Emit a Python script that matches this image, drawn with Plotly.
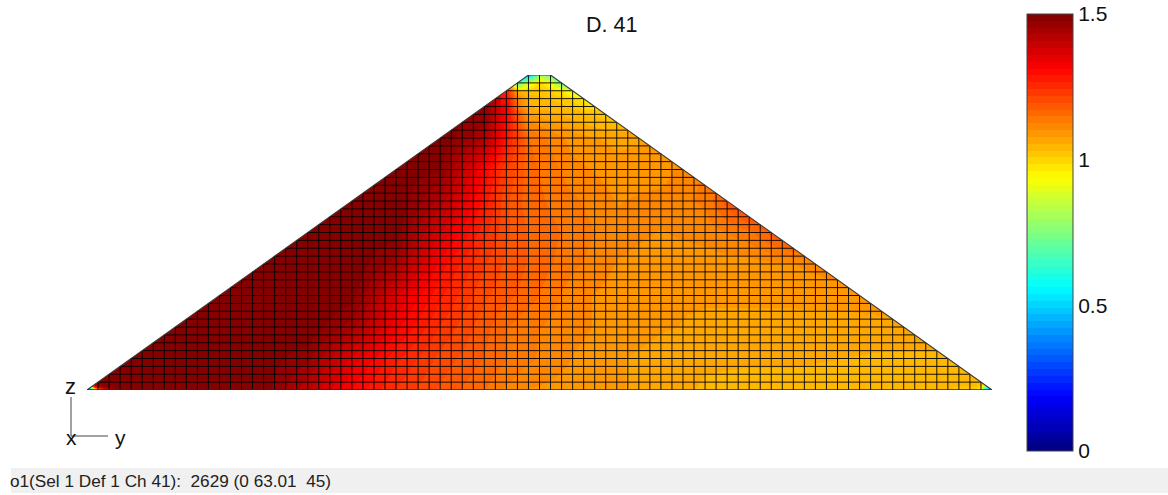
import plotly.graph_objects as go

TITLE = "D. 41"
STATUS = "o1(Sel 1 Def 1 Ch 41):\u00a0\u00a02629 (0 63.01\u00a0\u00a045)"
TICK_VALUES = [0, 0.5, 1, 1.5]
TICK_LABELS = ["0", "0.5", "1", "1.5"]
N_COLS = 82
N_ROWS = 40
TOP_FLAT_LEFT = 40
TOP_FLAT_RIGHT = 42

COLS = [0, 4, 8, 12, 16, 20, 24, 28, 32, 36, 38, 40, 44, 48, 52, 56, 60, 64, 68, 72, 76, 80, 82]
ROWS = [0, 4, 8, 12, 16, 20, 24, 28, 32, 36, 40]
R00 = [1.49, 1.49, 1.49, 1.49, 1.49, 1.41, 1.31, 1.24, 1.19, 1.15, 1.12, 1.10, 1.09, 1.08, 1.07, 1.05, 1.04, 1.04, 1.035, 1.03, 1.03, 1.03, 1.03]
R04 = [1.49, 1.49, 1.49, 1.49, 1.49, 1.46, 1.35, 1.27, 1.21, 1.17, 1.15, 1.13, 1.10, 1.08, 1.07, 1.06, 1.06, 1.06, 1.055, 1.05, 1.05, 1.05, 1.05]
R08 = [1.49, 1.49, 1.49, 1.49, 1.49, 1.50, 1.44, 1.32, 1.24, 1.18, 1.15, 1.13, 1.11, 1.09, 1.08, 1.075, 1.075, 1.075, 1.07, 1.07, 1.07, 1.07, 1.07]
R12 = [1.49, 1.49, 1.49, 1.49, 1.49, 1.50, 1.49, 1.36, 1.27, 1.20, 1.18, 1.16, 1.11, 1.09, 1.08, 1.08, 1.08, 1.08, 1.085, 1.09, 1.09, 1.09, 1.09]
R16 = [1.49, 1.49, 1.49, 1.49, 1.49, 1.49, 1.50, 1.44, 1.30, 1.22, 1.19, 1.17, 1.13, 1.10, 1.09, 1.09, 1.09, 1.10, 1.12, 1.12, 1.12, 1.12, 1.12]
R20 = [1.49, 1.49, 1.49, 1.49, 1.49, 1.49, 1.49, 1.49, 1.36, 1.25, 1.20, 1.17, 1.14, 1.11, 1.10, 1.11, 1.14, 1.22, 1.22, 1.22, 1.22, 1.22, 1.22]
R24 = [1.49, 1.49, 1.49, 1.49, 1.49, 1.49, 1.49, 1.50, 1.42, 1.28, 1.20, 1.16, 1.13, 1.10, 1.11, 1.13, 1.24, 1.24, 1.24, 1.24, 1.24, 1.24, 1.24]
R28 = [1.49, 1.49, 1.49, 1.49, 1.49, 1.49, 1.49, 1.49, 1.48, 1.31, 1.22, 1.16, 1.11, 1.09, 1.09, 1.13, 1.13, 1.13, 1.13, 1.13, 1.13, 1.13, 1.13]
R32 = [1.49, 1.49, 1.49, 1.49, 1.49, 1.49, 1.49, 1.49, 1.50, 1.43, 1.28, 1.15, 1.09, 1.07, 1.08, 1.08, 1.08, 1.08, 1.08, 1.08, 1.08, 1.08, 1.08]
R36 = [1.49, 1.49, 1.49, 1.49, 1.49, 1.49, 1.49, 1.49, 1.49, 1.48, 1.32, 1.06, 1.03, 0.99, 0.99, 0.99, 0.99, 0.99, 0.99, 0.99, 0.99, 0.99, 0.99]
R40 = [1.49, 1.49, 1.49, 1.49, 1.49, 1.49, 1.49, 1.49, 1.49, 1.49, 1.25, 0.96, 0.85, 0.85, 0.85, 0.85, 0.85, 0.85, 0.85, 0.85, 0.85, 0.85, 0.85]
FIELD = [R00, R04, R08, R12, R16, R20, R24, R28, R32, R36, R40]

# Low-value detail at the crest
APEX_COLS = [38, 39, 40, 41, 42, 43, 44, 45, 46]
APEX_ROWS = [36, 37, 38, 39, 40]
A36 = [1.32, 1.14, 1.06, 1.05, 1.05, 1.04, 1.03, 1.00, 0.98]
A37 = [1.30, 1.12, 1.05, 1.04, 1.03, 1.02, 1.00, 0.97, 0.92]
A38 = [1.25, 1.05, 1.02, 1.02, 1.00, 0.98, 0.88, 0.82, 0.82]
A39 = [1.10, 0.70, 0.90, 1.00, 0.92, 0.72, 0.65, 0.65, 0.65]
A40 = [0.45, 0.45, 0.48, 0.82, 0.72, 0.48, 0.48, 0.48, 0.48]
APEX = [A36, A37, A38, A39, A40]

# Low-value detail at the two toes
TOE_L_COLS = [0, 0.25, 0.5, 0.75, 1, 1.5, 2, 3]
TOE_L_ROWS = [0, 0.5, 1, 2]
TL0 = [0.05, 0.30, 0.55, 0.80, 1.00, 1.25, 1.40, 1.49]
TL1 = [0.60, 0.90, 1.20, 1.35, 1.42, 1.49, 1.49, 1.49]
TL2 = [1.30, 1.40, 1.49, 1.49, 1.49, 1.49, 1.49, 1.49]
TL3 = [1.49, 1.49, 1.49, 1.49, 1.49, 1.49, 1.49, 1.49]
TOE_L = [TL0, TL1, TL2, TL3]

TOE_R_COLS = [79, 80, 80.5, 81, 81.25, 81.5, 81.75, 82]
TOE_R_ROWS = [0, 0.5, 1, 2]
TR0 = [1.03, 1.03, 1.00, 0.85, 0.65, 0.45, 0.30, 0.10]
TR1 = [1.03, 1.03, 1.03, 0.98, 0.85, 0.70, 0.55, 0.40]
TR2 = [1.04, 1.04, 1.04, 1.03, 1.00, 0.95, 0.90, 0.85]
TR3 = [1.05, 1.05, 1.05, 1.05, 1.05, 1.05, 1.05, 1.05]
TOE_R = [TR0, TR1, TR2, TR3]


def jet_stepped(n=64):
    def clip(v):
        return max(0.0, min(1.0, v))
    scale = []
    for i in range(n):
        t = (i + 0.5) / n
        r = clip(min(4 * t - 1.5, -4 * t + 4.5))
        g = clip(min(4 * t - 0.5, -4 * t + 3.5))
        b = clip(min(4 * t + 0.5, -4 * t + 2.5))
        col = f"rgb({round(r*255)},{round(g*255)},{round(b*255)})"
        scale.append([i / n, col])
        scale.append([(i + 1) / n, col])
    return scale


# pixel frame of the plot area
L, R, T, B = 87, 992, 75, 390
W, H = 1168, 495


def px(x):
    return (x - L) / (R - L)


def py(y):
    return (B - y) / (B - T)


fig = go.Figure()
for cols, rows, z in [(COLS, ROWS, FIELD), (APEX_COLS, APEX_ROWS, APEX),
                      (TOE_L_COLS, TOE_L_ROWS, TOE_L), (TOE_R_COLS, TOE_R_ROWS, TOE_R)]:
    fig.add_trace(go.Heatmap(x=cols, y=rows, z=z, coloraxis="coloraxis", zsmooth="best",
                             hoverinfo="skip"))

# white masks outside the section
mask = "#ffffff"
fig.add_trace(go.Scatter(
    x=[-1, 0, TOP_FLAT_LEFT, TOP_FLAT_LEFT, -1, -1, None,
       N_COLS + 1, N_COLS, TOP_FLAT_RIGHT, TOP_FLAT_RIGHT, N_COLS + 1, N_COLS + 1],
    y=[0, 0, N_ROWS, N_ROWS + 1, N_ROWS + 1, 0, None,
       0, 0, N_ROWS, N_ROWS + 1, N_ROWS + 1, 0],
    mode="lines", fill="toself", fillcolor=mask, line=dict(width=0), hoverinfo="skip"))

# mesh lines
gx, gy = [], []
for c in range(1, N_COLS):
    gx += [c, c, None]
    gy += [0, min(c, N_COLS - c, N_ROWS), None]
for r in range(0, N_ROWS):
    gx += [r, N_COLS - r, None]
    gy += [r, r, None]
fig.add_trace(go.Scatter(x=gx, y=gy, mode="lines", line=dict(color="rgba(0,0,0,0.9)", width=1.0),
                         hoverinfo="skip"))
# outline
fig.add_trace(go.Scatter(x=[0, TOP_FLAT_LEFT, TOP_FLAT_RIGHT, N_COLS, 0], y=[0, N_ROWS, N_ROWS, 0, 0],
                         mode="lines", line=dict(color="#3a3a3a", width=1.1), hoverinfo="skip"))

font = "Liberation Sans, Arial, sans-serif"
ann = [
    dict(x=px(611.5), y=py(25), text=TITLE, font=dict(size=21.5, color="#111", family=font)),
    dict(x=px(70), y=py(386), text="z", font=dict(size=22, color="#111", family=font)),
    dict(x=px(71), y=py(437), text="x", font=dict(size=21, color="#111", family=font)),
    dict(x=px(120), y=py(437), text="y", font=dict(size=21, color="#111", family=font)),
    dict(x=px(10), y=py(481), text=STATUS, xanchor="left", font=dict(size=17.2, color="#222", family=font)),
]
for a in ann:
    a.update(xref="paper", yref="paper", showarrow=False, xanchor=a.get("xanchor", "center"), yanchor="middle",
             borderpad=0, borderwidth=0)

shapes = [
    dict(type="rect", xref="paper", yref="paper", x0=px(11), x1=px(1168), y0=py(468), y1=py(493),
         fillcolor="#f0f0f0", line=dict(width=0), layer="below"),
    dict(type="line", xref="paper", yref="paper", x0=px(71), x1=px(71), y0=py(397), y1=py(436),
         line=dict(color="#444", width=1)),
    dict(type="line", xref="paper", yref="paper", x0=px(71), x1=px(108), y0=py(436), y1=py(436),
         line=dict(color="#444", width=1)),
]

fig.update_layout(
    width=W, height=H, showlegend=False,
    margin=dict(l=L, r=W - R, t=T, b=H - B, pad=0, autoexpand=False),
    paper_bgcolor="white", plot_bgcolor="white",
    xaxis=dict(range=[0, N_COLS], visible=False, fixedrange=True),
    yaxis=dict(range=[0, N_ROWS], visible=False, fixedrange=True),
    coloraxis=dict(
        cmin=0, cmax=1.5, colorscale=jet_stepped(),
        colorbar=dict(
            x=px(1027), xanchor="left", xpad=0, y=py(232.5), yanchor="middle", ypad=0,
            lenmode="pixels", len=437, thicknessmode="pixels", thickness=46,
            outlinewidth=1, outlinecolor="#444", borderwidth=0,
            tickmode="array", tickvals=TICK_VALUES, ticktext=TICK_LABELS, ticks="", ticklen=0,
            tickfont=dict(size=21, color="#111", family=font),
        ),
    ),
    annotations=ann, shapes=shapes,
)
fig.write_html("out.html", config={"displayModeBar": False},
               post_script="document.body.style.margin='0';document.body.style.overflow='hidden';")
